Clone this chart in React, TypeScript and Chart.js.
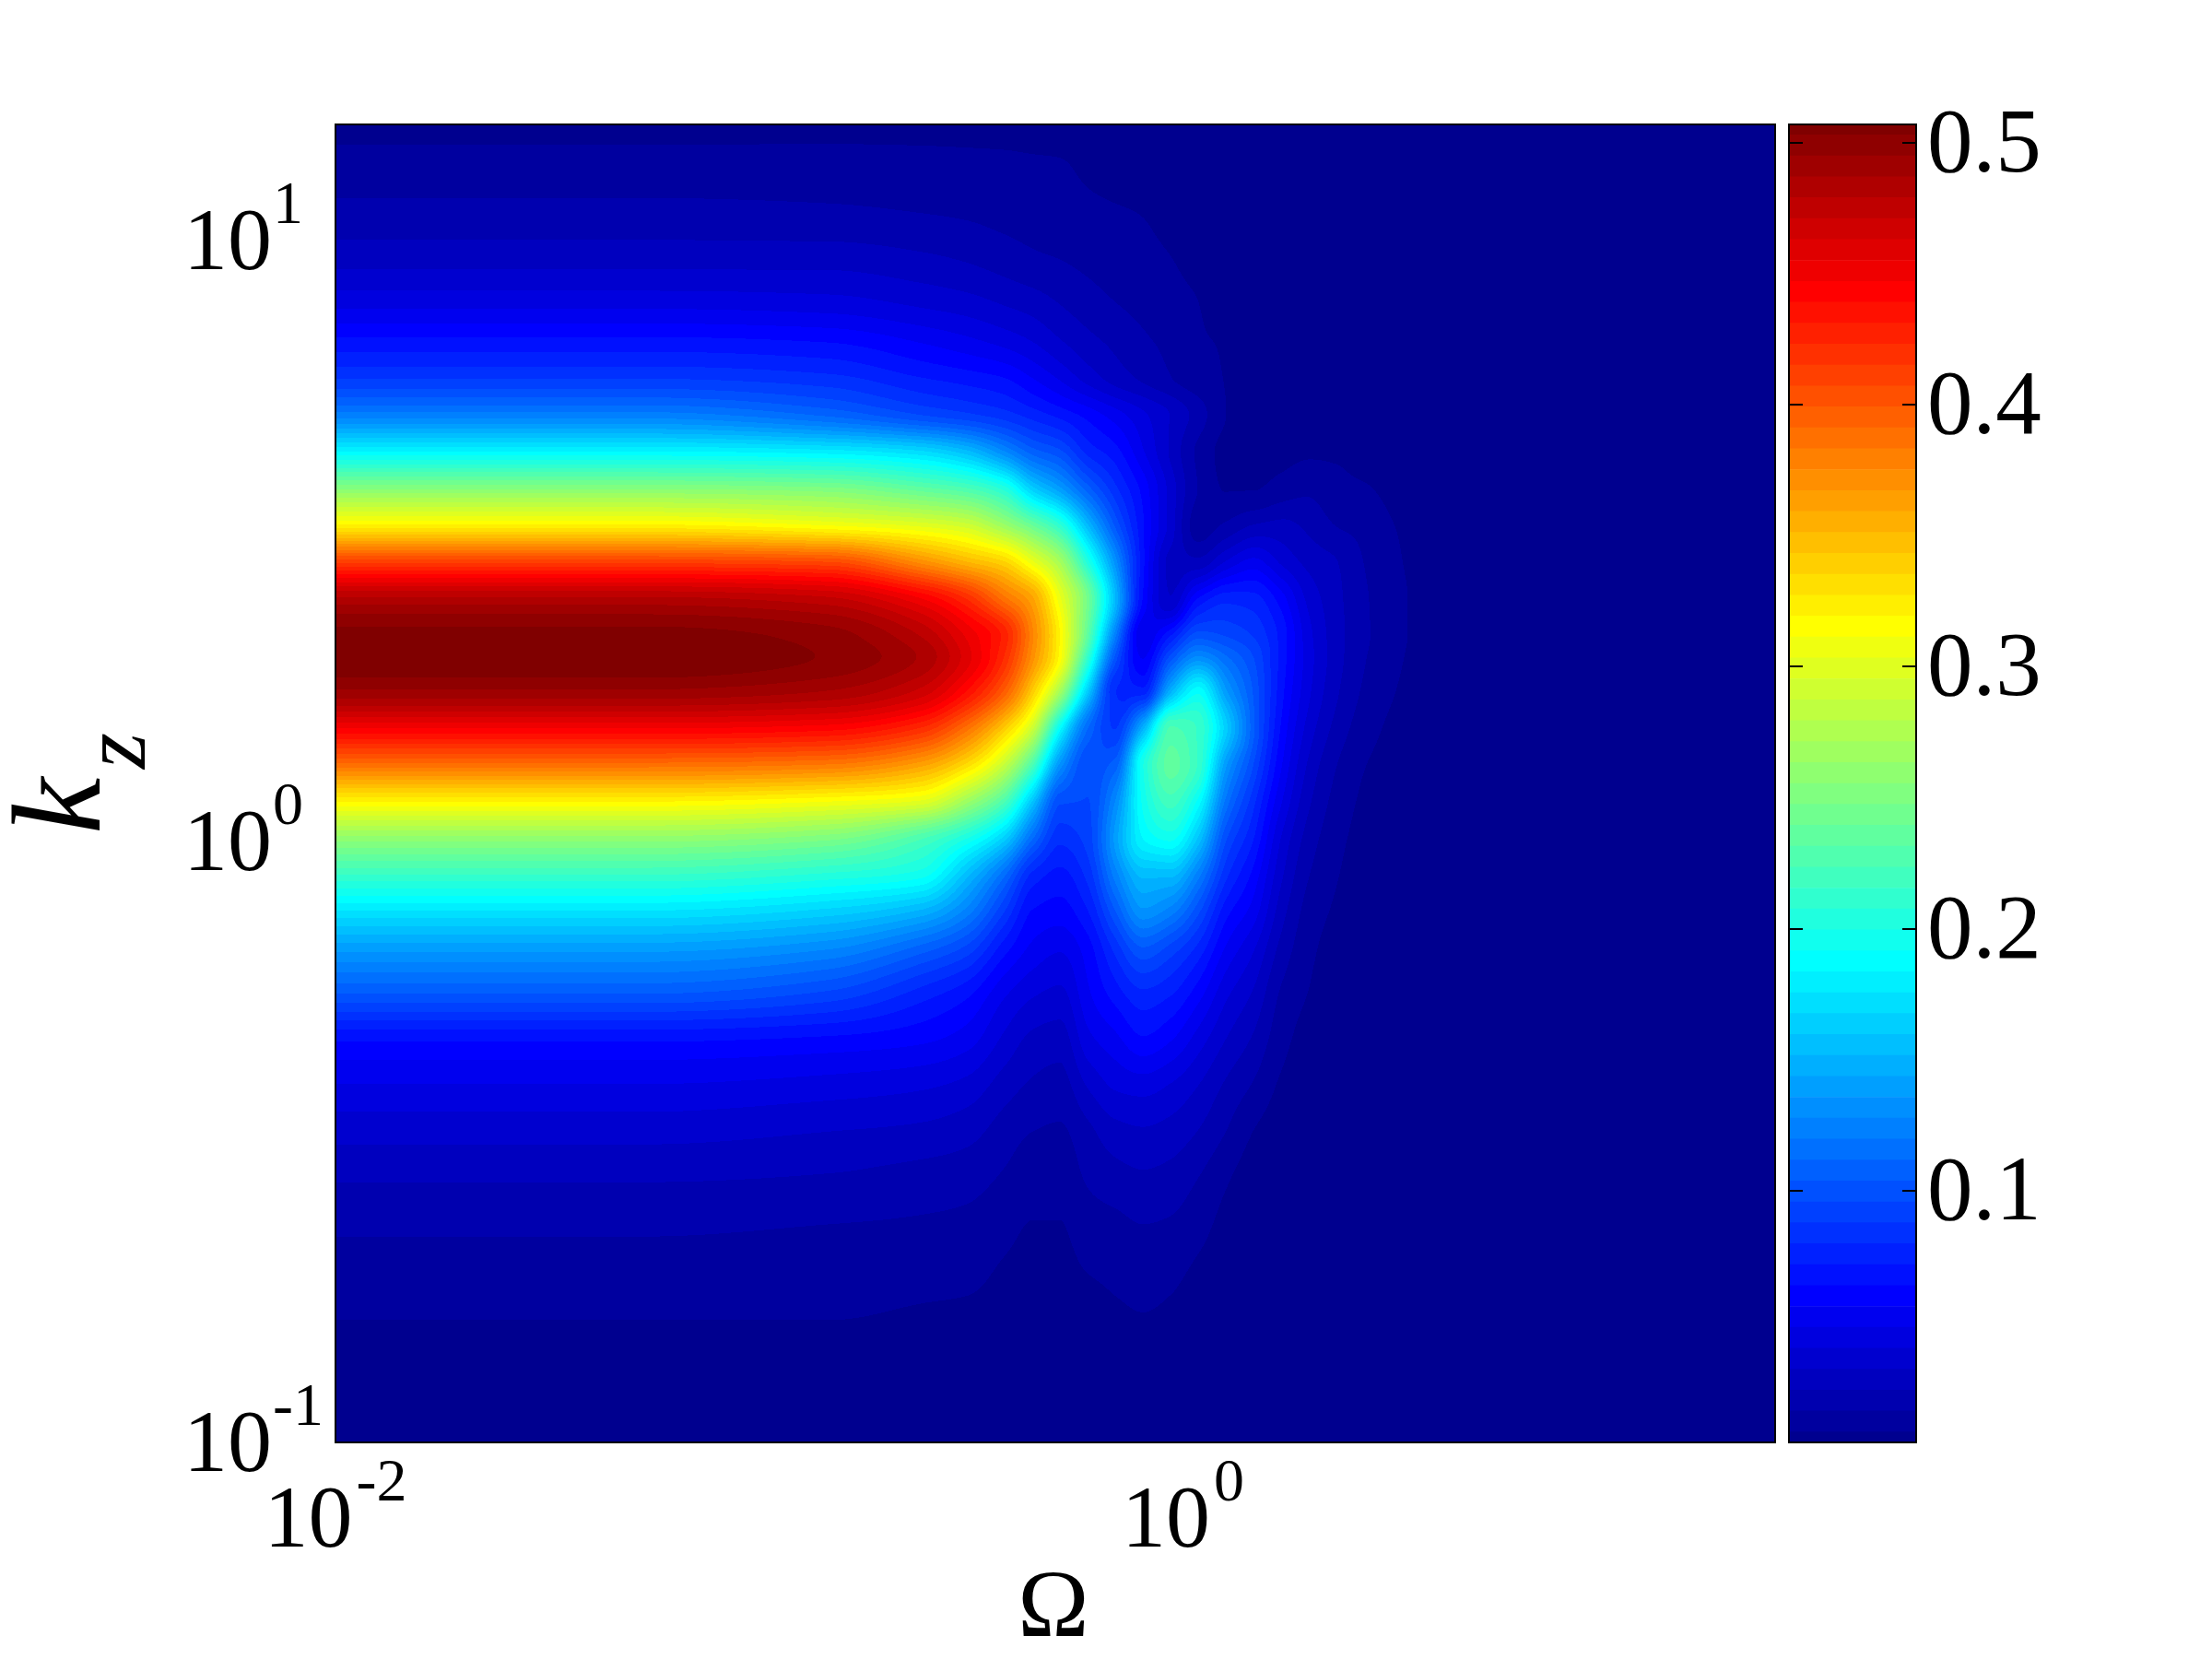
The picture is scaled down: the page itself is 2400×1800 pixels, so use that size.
import React, { useEffect, useRef } from "react";
import { Chart, registerables } from "chart.js";

Chart.register(...registerables);

const FONT = '"Liberation Serif"';

// Mesh of readings: log10(Omega) columns, log10(kz) rows.
const omegaExponents = [-2, -1.269, -0.834, -0.6165, -0.508, -0.421, -0.355, -0.29, -0.225, -0.16, -0.094, -0.029, 0.036, 0.101, 0.167, 0.232, 0.297, 0.362, 0.428, 0.493, 0.558, 0.689, 1.398];
const kzExponents = [1.193, 1.124, 1.048, 0.971, 0.894, 0.833, 0.771, 0.71, 0.649, 0.587, 0.526, 0.465, 0.403, 0.342, 0.308, 0.25, 0.189, 0.127, 0.066, 0.005, -0.057, -0.118, -0.179, -0.256, -0.333, -0.41, -0.486, -0.563, -0.64, -0.716, -0.793, -0.87, -1];

const intensity = [
  [.009, .009, .009, .009, .009, .009, .0085, .008, .008, .0075, .007, .007, .006, .006, .006, .006, .006, .006, .006, .006, .006, .006, .006],
  [.015, .015, .015, .0145, .014, .0135, .013, .0125, .0105, .009, .008, .007, .006, .006, .006, .006, .006, .006, .006, .006, .006, .006, .006],
  [.022, .022, .021, .0195, .0185, .017, .016, .0145, .0135, .0125, .0115, .009, .0065, .006, .006, .006, .006, .006, .006, .006, .006, .006, .006],
  [.032, .032, .032, .029, .0265, .0235, .021, .0195, .0175, .0155, .014, .012, .0085, .006, .006, .006, .006, .006, .006, .006, .006, .006, .006],
  [.049, .049, .047, .042, .039, .035, .032, .0275, .0235, .02, .0175, .015, .012, .008, .006, .006, .006, .006, .006, .006, .006, .006, .006],
  [.069, .069, .066, .058, .053, .048, .043, .036, .03, .0255, .021, .0175, .0128, .011, .006, .006, .006, .006, .006, .006, .006, .006, .006],
  [.09, .09, .085, .075, .071, .067, .059, .05, .04, .032, .026, .02, .0145, .0115, .006, .006, .006, .006, .006, .006, .006, .006, .006],
  [.125, .125, .112, .098, .092, .086, .079, .072, .064, .055, .045, .035, .024, .012, .007, .006, .006, .006, .006, .006, .006, .006, .006],
  [.185, .185, .18, .17, .155, .13, .11, .1, .08, .07, .052, .034, .018, .0095, .008, .009, .0105, .0105, .0075, .006, .006, .006, .006],
  [.255, .255, .25, .235, .225, .205, .165, .14, .11, .085, .064, .04, .0195, .0115, .0115, .015, .018, .0145, .0128, .0095, .007, .006, .006],
  [.32, .32, .31, .3, .29, .265, .24, .21, .155, .105, .068, .04, .016, .021, .028, .03, .0255, .0195, .017, .0122, .0095, .0065, .006],
  [.41, .41, .405, .37, .35, .335, .305, .27, .205, .135, .069, .033, .03, .044, .054, .042, .033, .028, .0195, .0135, .01, .0065, .006],
  [.478, .478, .47, .445, .42, .385, .36, .305, .245, .155, .066, .036, .068, .08, .078, .063, .041, .03, .021, .0145, .0105, .007, .006],
  [.503, .503, .495, .475, .45, .425, .375, .318, .235, .125, .052, .075, .103, .098, .09, .072, .046, .031, .0215, .0145, .0105, .007, .006],
  [.507, .507, .498, .482, .455, .42, .37, .315, .215, .105, .058, .1, .13, .115, .098, .072, .047, .031, .0205, .014, .01, .007, .006],
  [.49, .49, .483, .465, .435, .395, .34, .27, .165, .083, .078, .15, .19, .14, .105, .07, .045, .029, .0185, .0125, .009, .0065, .006],
  [.445, .445, .44, .42, .385, .34, .29, .19, .115, .09, .15, .225, .215, .165, .108, .066, .04, .025, .0155, .0105, .008, .006, .006],
  [.385, .385, .38, .36, .33, .285, .225, .135, .1, .11, .2, .235, .215, .14, .098, .06, .034, .02, .0122, .009, .007, .006, .006],
  [.318, .318, .31, .3, .265, .225, .16, .1, .098, .13, .195, .22, .19, .12, .085, .052, .029, .017, .0105, .008, .0065, .006, .006],
  [.26, .26, .25, .225, .2, .165, .115, .085, .094, .14, .185, .195, .16, .1, .075, .043, .024, .0145, .009, .007, .006, .006, .006],
  [.215, .215, .205, .195, .155, .115, .08, .072, .085, .125, .155, .155, .125, .085, .064, .037, .02, .0125, .0075, .0065, .006, .006, .006],
  [.175, .175, .165, .15, .125, .09, .066, .063, .074, .105, .135, .125, .1, .07, .055, .031, .0165, .0105, .006, .006, .006, .006, .006],
  [.14, .14, .13, .11, .095, .07, .057, .052, .063, .085, .105, .095, .08, .058, .044, .025, .014, .0085, .006, .006, .006, .006, .006],
  [.105, .105, .095, .078, .068, .052, .044, .041, .057, .07, .08, .075, .062, .045, .034, .0185, .0115, .007, .006, .006, .006, .006, .006],
  [.067, .067, .064, .06, .054, .041, .033, .031, .048, .056, .065, .059, .047, .035, .026, .0145, .0085, .006, .006, .006, .006, .006, .006],
  [.05, .05, .047, .044, .04, .031, .026, .024, .0355, .044, .046, .042, .035, .026, .0185, .0105, .007, .006, .006, .006, .006, .006, .006],
  [.038, .038, .035, .033, .03, .0235, .0195, .0185, .025, .032, .034, .032, .027, .0195, .0115, .0075, .006, .006, .006, .006, .006, .006, .006],
  [.028, .028, .0265, .024, .0225, .0185, .015, .015, .0205, .024, .026, .0245, .0195, .0128, .008, .006, .006, .006, .006, .006, .006, .006, .006],
  [.021, .021, .0195, .0185, .0175, .014, .0115, .0115, .016, .0175, .0195, .0185, .0145, .0095, .0065, .006, .006, .006, .006, .006, .006, .006, .006],
  [.016, .016, .015, .014, .0135, .011, .0095, .0095, .012, .0135, .0145, .0135, .0105, .0075, .006, .006, .006, .006, .006, .006, .006, .006, .006],
  [.012, .012, .012, .011, .0105, .0092, .008, .008, .0085, .0105, .0115, .0105, .008, .006, .006, .006, .006, .006, .006, .006, .006, .006, .006],
  [.009, .009, .0088, .0085, .008, .0075, .0068, .0065, .007, .008, .0085, .008, .0065, .006, .006, .006, .006, .006, .006, .006, .006, .006, .006],
  [.005, .005, .005, .005, .005, .005, .005, .005, .005, .005, .005, .005, .005, .005, .005, .005, .005, .005, .005, .005, .005, .005, .005],
];

const omegaTicks = [0.01, 1];
const omegaTickExponents = ["-2", "0"];
const kzTicks = [0.1, 1, 10];
const kzTickExponents = ["-1", "0", "1"];
const colorbarTicks = [0.1, 0.2, 0.3, 0.4, 0.5];
const colorbarTickLabels = ["0.1", "0.2", "0.3", "0.4", "0.5"];
const omegaRange = [0.01, 25];
const kzRange = [0.1, 15.6];
const valueRange = [0.004, 0.507];
const LEVELS = 64;

function jet(i: number): [number, number, number] {
  const x = (i + 1) / LEVELS;
  const c = (v: number) => Math.round(255 * Math.max(0, Math.min(1, v)));
  return [
    c(Math.min(4 * x - 1.5, -4 * x + 4.5)),
    c(Math.min(4 * x - 0.5, -4 * x + 3.5)),
    c(Math.min(4 * x + 0.5, -4 * x + 2.5)),
  ];
}

function tangents(xs: number[], ys: number[]) {
  const n = xs.length;
  const d: number[] = [];
  for (let i = 0; i < n - 1; i++) d.push((ys[i + 1] - ys[i]) / (xs[i + 1] - xs[i]));
  const m = new Array(n).fill(0);
  m[0] = d[0];
  m[n - 1] = d[n - 2];
  for (let i = 1; i < n - 1; i++) {
    if (d[i - 1] * d[i] <= 0) m[i] = 0;
    else {
      const h0 = xs[i] - xs[i - 1];
      const h1 = xs[i + 1] - xs[i];
      const w1 = 2 * h1 + h0;
      const w2 = h1 + 2 * h0;
      m[i] = (w1 + w2) / (w1 / d[i - 1] + w2 / d[i]);
    }
  }
  return m;
}

function hermite(xs: number[], ys: number[], m: number[], x: number) {
  let lo = 0;
  let hi = xs.length - 1;
  while (hi - lo > 1) {
    const mid = (lo + hi) >> 1;
    if (xs[mid] <= x) lo = mid;
    else hi = mid;
  }
  const h = xs[hi] - xs[lo];
  const t = Math.max(0, Math.min(1, (x - xs[lo]) / h));
  const t2 = t * t;
  const t3 = t2 * t;
  return (
    (2 * t3 - 3 * t2 + 1) * ys[lo] +
    (t3 - 2 * t2 + t) * h * m[lo] +
    (-2 * t3 + 3 * t2) * ys[hi] +
    (t3 - t2) * h * m[hi]
  );
}

// Shades the mesh of readings between its nodes, as a pcolor with interpolated shading does.
const meshShading = {
  id: "meshShading",
  beforeDatasetsDraw(chart: any) {
    const { ctx, chartArea: a, scales } = chart;
    const w = Math.round(a.right - a.left);
    const h = Math.round(a.bottom - a.top);
    const image = new ImageData(w, h);
    const ascKz = [...kzExponents].reverse();
    const rowTangents = intensity.map((r) => tangents(omegaExponents, r));
    const ly: number[] = [];
    for (let py = 0; py < h; py++) ly.push(Math.log10(scales.y.getValueForPixel(a.top + py + 0.5)));
    const range = valueRange[1] - valueRange[0];
    for (let px = 0; px < w; px++) {
      const lx = Math.log10(scales.x.getValueForPixel(a.left + px + 0.5));
      const col = intensity.map((r, j) => hermite(omegaExponents, r, rowTangents[j], lx)).reverse();
      const mc = tangents(ascKz, col);
      for (let py = 0; py < h; py++) {
        const v = hermite(ascKz, col, mc, ly[py]);
        const idx = Math.max(0, Math.min(LEVELS - 1, Math.floor(((v - valueRange[0]) / range) * LEVELS)));
        const [r, g, b] = jet(idx);
        const o = (py * w + px) * 4;
        image.data[o] = r;
        image.data[o + 1] = g;
        image.data[o + 2] = b;
        image.data[o + 3] = 255;
      }
    }
    const off = document.createElement("canvas");
    off.width = w;
    off.height = h;
    off.getContext("2d")!.putImageData(image, 0, 0);
    ctx.drawImage(off, a.left, a.top);
  },
  afterDraw(chart: any) {
    const { ctx, chartArea: a, scales } = chart;
    ctx.save();
    ctx.strokeStyle = "#000";
    ctx.lineWidth = 2;
    ctx.strokeRect(a.left, a.top, a.right - a.left, a.bottom - a.top);
    ctx.fillStyle = "#000";
    ctx.textBaseline = "alphabetic";
    ctx.textAlign = "left";
    const power = (x: number, y: number, exp: string, supDx: number) => {
      ctx.font = `96px ${FONT}`;
      ctx.fillText("10", x, y);
      ctx.font = `66px ${FONT}`;
      ctx.fillText(exp, x + supDx, y - 50);
    };
    kzTicks.forEach((t, i) => power(199, scales.y.getPixelForValue(t) + 31, kzTickExponents[i], 97));
    omegaTicks.forEach((t, i) => {
      ctx.font = `66px ${FONT}`;
      const total = 100 + ctx.measureText(omegaTickExponents[i]).width;
      power(scales.x.getPixelForValue(t) - total / 2, a.bottom + 113, omegaTickExponents[i], 100);
    });
    ctx.font = `104px ${FONT}`;
    ctx.textAlign = "center";
    ctx.fillText("Ω", (a.left + a.right) / 2 - 2, 1775);
    ctx.textAlign = "left";
    ctx.save();
    ctx.translate(108, 905);
    ctx.rotate(-Math.PI / 2);
    ctx.font = `italic 138px ${FONT}`;
    ctx.fillText("k", 0, 0);
    ctx.restore();
    ctx.save();
    ctx.translate(157, 834);
    ctx.rotate(-Math.PI / 2);
    ctx.font = `italic 100px ${FONT}`;
    ctx.fillText("z", 0, 0);
    ctx.restore();
    ctx.restore();
  },
};

const colorbarFrame = {
  id: "colorbarFrame",
  afterDraw(chart: any) {
    const { ctx, chartArea: a, scales } = chart;
    ctx.save();
    ctx.strokeStyle = "#000";
    ctx.lineWidth = 2;
    ctx.strokeRect(a.left, a.top, a.right - a.left, a.bottom - a.top);
    ctx.fillStyle = "#000";
    ctx.font = `99px ${FONT}`;
    ctx.textAlign = "left";
    ctx.textBaseline = "alphabetic";
    colorbarTicks.forEach((t, i) => {
      const y = Math.round(scales.y.getPixelForValue(t));
      ctx.beginPath();
      ctx.moveTo(a.left, y);
      ctx.lineTo(a.left + 15, y);
      ctx.moveTo(a.right - 15, y);
      ctx.lineTo(a.right, y);
      ctx.stroke();
      ctx.fillText(colorbarTickLabels[i], a.right + 12, y + 30.5);
    });
    ctx.restore();
  },
};

export default function App() {
  const mainRef = useRef<HTMLCanvasElement>(null);
  const barRef = useRef<HTMLCanvasElement>(null);

  useEffect(() => {
    document.body.style.margin = "0";
    const mesh: { x: number; y: number; v: number }[] = [];
    intensity.forEach((row, j) =>
      row.forEach((v, i) => mesh.push({ x: 10 ** omegaExponents[i], y: 10 ** kzExponents[j], v }))
    );
    const main = new Chart(mainRef.current!, {
      type: "scatter",
      data: { datasets: [{ label: "intensity", data: mesh, pointRadius: 0 }] },
      options: {
        animation: false,
        responsive: false,
        devicePixelRatio: 1,
        layout: { padding: { left: 364, top: 135, right: 474, bottom: 235 } },
        plugins: { legend: { display: false }, tooltip: { enabled: false } },
        events: [],
        scales: {
          x: {
            type: "logarithmic",
            min: omegaRange[0],
            max: omegaRange[1],
            grid: { display: false },
            border: { display: false },
            ticks: { display: false },
            afterFit: (s: any) => { s.height = 0; },
          },
          y: {
            type: "logarithmic",
            min: kzRange[0],
            max: kzRange[1],
            grid: { display: false },
            border: { display: false },
            ticks: { display: false },
            afterFit: (s: any) => { s.width = 0; },
          },
        },
      },
      plugins: [meshShading],
    } as any);

    const step = (valueRange[1] - valueRange[0]) / (LEVELS - 1);
    const bands = Array.from({ length: LEVELS }, (_, i) => {
      const [r, g, b] = jet(i);
      const lo = Math.max(valueRange[0], valueRange[0] + (i - 0.5) * step);
      const hi = Math.min(valueRange[1], valueRange[0] + (i + 0.5) * step);
      return {
        label: `level ${i}`,
        data: [[lo, hi]],
        backgroundColor: `rgb(${r},${g},${b})`,
        borderWidth: 0,
        grouped: false,
        barPercentage: 1,
        categoryPercentage: 1,
      };
    });
    const bar = new Chart(barRef.current!, {
      type: "bar",
      data: { labels: [""], datasets: bands },
      options: {
        animation: false,
        responsive: false,
        devicePixelRatio: 1,
        layout: { padding: { left: 41, top: 135, right: 0, bottom: 235 } },
        plugins: { legend: { display: false }, tooltip: { enabled: false } },
        events: [],
        scales: {
          x: { display: false, grid: { display: false } },
          y: {
            position: "right",
            min: valueRange[0],
            max: valueRange[1],
            afterFit: (s: any) => { s.width = 321; },
            grid: { display: false },
            border: { display: false },
            ticks: { display: false },
          },
        },
      },
      plugins: [colorbarFrame],
    } as any);
    return () => {
      main.destroy();
      bar.destroy();
    };
  }, []);

  return (
    <div style={{ position: "relative", width: 2400, height: 1800, background: "#fff" }}>
      <canvas ref={mainRef} width={2400} height={1800} style={{ position: "absolute", left: 0, top: 0 }} />
      <canvas ref={barRef} width={500} height={1800} style={{ position: "absolute", left: 1900, top: 0 }} />
    </div>
  );
}
